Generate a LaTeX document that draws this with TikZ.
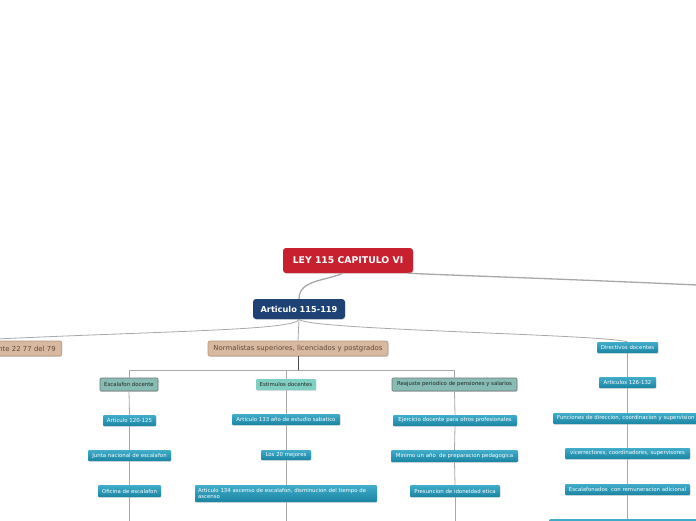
\documentclass[tikz,border=0pt]{standalone}
\usepackage{fontspec}
\setmainfont{DejaVu Sans}
\usetikzlibrary{shadows}
\definecolor{rootred}{HTML}{C8202F}
\definecolor{artblue}{HTML}{1F4275}
\definecolor{tanfill}{HTML}{D8B89F}
\definecolor{tanline}{HTML}{B3957D}
\definecolor{tantext}{HTML}{5C4B3E}
\definecolor{tealtop}{HTML}{40ADCA}
\definecolor{tealbot}{HTML}{1B84A3}
\definecolor{grayteal}{HTML}{86BCB4}
\definecolor{lightteal}{HTML}{7FD0C3}
\definecolor{linegray}{HTML}{A8A8A8}
\tikzset{
  base/.style={inner sep=0pt, align=center, drop shadow={opacity=0.25, shadow xshift=0.4pt, shadow yshift=-0.8pt}},
  rootbox/.style={base, fill=rootred, rounded corners=3pt, text=white, font=\fontsize{9.3}{10}\selectfont\bfseries, minimum width=130pt, minimum height=25pt},
  artbox/.style={base, fill=artblue, rounded corners=3pt, text=white, font=\fontsize{8.2}{9}\selectfont\bfseries, minimum width=92pt, minimum height=20pt},
  tanbox/.style={base, fill=tanfill, draw=tanline, line width=0.6pt, rounded corners=2pt, text=tantext, font=\fontsize{6.9}{8}\selectfont, minimum height=15pt},
  leafbox/.style={base, top color=tealtop, bottom color=tealbot, rounded corners=1pt, text=white, font=\fontsize{5.4}{6.3}\selectfont, minimum height=11pt},
  grpbox/.style={base, fill=grayteal, draw=black!55, line width=0.6pt, rounded corners=1pt, text=black!85, font=\fontsize{5.4}{6.3}\selectfont, minimum height=13pt},
  estbox/.style={base, fill=lightteal, rounded corners=1pt, text=black!85, font=\fontsize{5.4}{6.3}\selectfont, minimum height=11pt},
  link/.style={draw=linegray, line width=0.8pt},
  thick link/.style={draw=linegray, line width=1.3pt},
}
\begin{document}
\begin{tikzpicture}[x=1pt,y=-1pt]
\useasboundingbox (0,0) rectangle (696,520);
\fill[white] (0,0) rectangle (696,520);

% main nodes
\node[rootbox] (root) at (348,260.5) {LEY 115 CAPITULO VI};
\coordinate (rightend) at (760,288);
\node[artbox] (art) at (299,309) {Articulo 115-119};

\node[tanbox, anchor=east, text width=196pt, align=right, minimum width=200pt] (left) at (62,348.5) {Docente 22 77 del 79\hspace*{4pt}};
\node[tanbox, minimum width=180pt] (norm) at (298,348.5) {Normalistas superiores, licenciados y postgrados};
\node[leafbox, minimum width=61pt] (dir) at (627.5,347.5) {Directivos docentes};

% connectors from root
\draw[thick link] ([xshift=-5pt]root.south) .. controls (325,281) and (299,280) .. (art.north);
\draw[thick link] ([xshift=-5pt]root.south east) .. controls (440,275) and (600,280) .. (rightend);

% connectors from art
\draw[link] (art.south) .. controls (296,331) and (150,331) .. (left.north);
\draw[link] (art.south) -- (norm.north);
\draw[link] (art.south) .. controls (305,330) and (600,334) .. (dir.north);

% level 3
\node[grpbox, minimum width=58pt] (esc) at (129,384.5) {Escalafon docente};
\node[estbox, minimum width=60pt] (est) at (286,384.5) {Estimulos docentes};
\node[grpbox, minimum width=125pt] (rea) at (454.5,384.5) {Reajuste periodico de pensiones y salarios};
\coordinate (bar) at (298,370);
\draw[draw=black!70, line width=0.8pt] (norm.south) -- (bar);
\draw[link] (bar) -| (esc.north);
\draw[link] (bar) -| (est.north);
\draw[link] (bar) -| (rea.north);

% Escalafon column
\node[leafbox, minimum width=53pt] (a120) at (129.5,420.5) {Articulo 120-125};
\node[leafbox, minimum width=83pt] (junta) at (129.5,455.5) {Junta nacional de escalafon};
\node[leafbox, minimum width=63pt, minimum height=12pt] (ofic) at (129.5,491) {Oficina de escalafon};
\coordinate (escend) at (129.5,530);
\draw[link] (esc.south) -- (a120.north);
\draw[link] (a120.south) -- (junta.north);
\draw[link] (junta.south) -- (ofic.north);
\draw[link] (ofic.south) -- (escend);

% Estimulos column
\node[leafbox, minimum width=108pt] (a133) at (286,419.5) {Articulo 133 año de estudio sabatico};
\node[leafbox, minimum width=50pt, minimum height=10pt] (los20) at (286,455) {Los 20 mejores};
\node[leafbox, minimum width=182pt, minimum height=17pt, text width=176pt, align=left] (a134) at (286,493.5) {Articulo 134 ascenso de escalafon, disminucion del tiempo de\\ascenso};
\coordinate (estend) at (286,530);
\draw[link] (est.south) -- (a133.north);
\draw[link] (a133.south) -- (los20.north);
\draw[link] (los20.south) -- (a134.north);
\draw[link] (a134.south) -- (estend);

% Reajuste column
\node[leafbox, minimum width=124pt] (ejer) at (455,420.5) {Ejercicio docente para otros profesionales};
\node[leafbox, minimum width=127pt, minimum height=12pt] (minimo) at (454.5,456) {Minimo un año\ \ de preparacion pedagogica};
\node[leafbox, minimum width=90pt, minimum height=12pt] (presun) at (455,491) {Presuncion de idoneidad etica};
\coordinate (reaend) at (455,530);
\draw[link] (rea.south) -- (ejer.north);
\draw[link] (ejer.south) -- (minimo.north);
\draw[link] (minimo.south) -- (presun.north);
\draw[link] (presun.south) -- (reaend);

% Directivos column
\node[leafbox, minimum width=57pt] (a126) at (627.5,382.5) {Articulos 126-132};
\node[leafbox, inner xsep=4pt, anchor=west] (func) at (553,418.5) {Funciones de direccion, coordinacion y supervision};
\node[leafbox, minimum width=125pt] (vice) at (627.5,453.5) {vicerrectores, coordinadores, supervisores};
\node[leafbox, minimum width=125pt] (escrem) at (627.5,489.5) {Escalafonados\ \ con remuneracion adicional};
\node[leafbox, minimum width=180pt, minimum height=20pt, anchor=north west] (nextb) at (549,519) {};
\draw[link] (dir.south) -- (a126.north);
\draw[link] (a126.south) -- (a126.south |- func.north);
\draw[link] (a126.south |- func.south) -- (vice.north);
\draw[link] (vice.south) -- (escrem.north);
\draw[link] (escrem.south) -- (escrem.south |- nextb.north);
\end{tikzpicture}
\end{document}
